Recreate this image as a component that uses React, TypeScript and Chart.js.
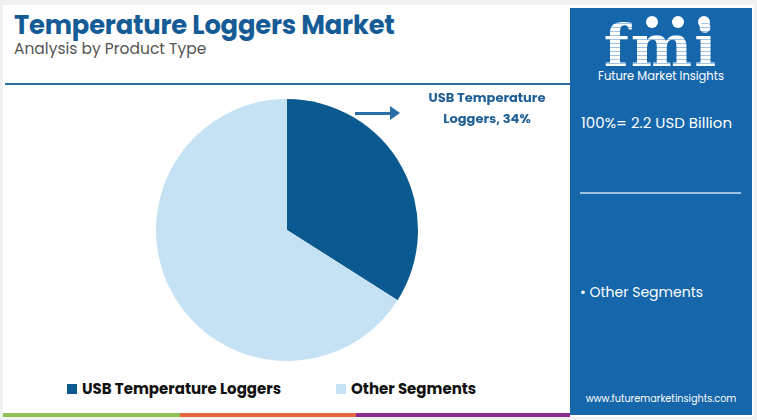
import React, { useEffect, useRef } from "react";
import { Chart, registerables } from "chart.js";

Chart.register(...registerables);

const categories = ["USB Temperature Loggers", "Other Segments"];
const shares = [34, 66];
const colors = ["#0b5a8f", "#c5e2f4"];
const titleText = "Temperature Loggers Market";
const subtitleText = "Analysis by Product Type";
const totalLabel = "100%= 2.2 USD Billion";
const calloutLines = ["USB Temperature", "Loggers, 34%"];
const sideSegments = ["Other Segments"];

export default function App() {
  const ref = useRef<HTMLCanvasElement | null>(null);

  useEffect(() => {
    document.body.style.margin = "0";
    const ctx = ref.current!.getContext("2d")!;
    const chart = new Chart(ctx, {
      type: "pie",
      data: {
        labels: categories,
        datasets: [
          {
            data: shares,
            backgroundColor: colors,
            borderWidth: 0,
          },
        ],
      },
      options: {
        responsive: false,
        animation: false,
        rotation: 0,
        layout: { padding: 0 },
        plugins: {
          tooltip: { enabled: false },
          legend: { display: false },
        },
      },
    });
    return () => chart.destroy();
  }, []);

  const font = "Poppins, 'Open Sans', sans-serif";

  return (
    <div style={{ position: "fixed", left: 0, top: 0, width: 757, height: 420, background: "#f1f1f1", fontFamily: font, overflow: "hidden" }}>
      <div style={{ position: "absolute", left: 3, top: 5, width: 751, height: 412, background: "#fff" }} />
      <div style={{ position: "absolute", left: 14, top: 6, fontSize: 25.8, fontWeight: 700, color: "#155c96", whiteSpace: "nowrap", letterSpacing: -0.2 }}>{titleText}</div>
      <div style={{ position: "absolute", left: 14, top: 37, fontSize: 15.5, color: "#555", whiteSpace: "nowrap" }}>{subtitleText}</div>
      <div style={{ position: "absolute", left: 5, top: 83, width: 566, height: 2, background: "#2c6e9c" }} />
      <canvas ref={ref} width={262} height={262} style={{ position: "absolute", left: 156, top: 99 }} />
      {/* callout */}
      <div style={{ position: "absolute", left: 355, top: 112, width: 38, height: 3, background: "#2a6ea8" }} />
      <div style={{ position: "absolute", left: 390, top: 106, width: 0, height: 0, borderTop: "7.5px solid transparent", borderBottom: "7.5px solid transparent", borderLeft: "10px solid #2a6ea8" }} />
      <div style={{ position: "absolute", left: 412, top: 87, width: 150, textAlign: "center", fontSize: 13, fontWeight: 700, color: "#1e5f96", lineHeight: "21px" }}>
        {calloutLines.map((l) => (<div key={l}>{l}</div>))}
      </div>
      {/* legend */}
      <div style={{ position: "absolute", left: 67, top: 378, display: "flex", alignItems: "center", gap: 55, whiteSpace: "nowrap" }}>
        {categories.map((c, i) => (
          <div key={c} style={{ display: "flex", alignItems: "center" }}>
            <div style={{ width: 10, height: 10, background: colors[i], marginRight: 5 }} />
            <div style={{ fontSize: 15, fontWeight: 700, color: "#111", lineHeight: "22px" }}>{c}</div>
          </div>
        ))}
      </div>
      {/* bottom bar */}
      <div style={{ position: "absolute", left: 3, top: 413, width: 177, height: 4, background: "#8dc155" }} />
      <div style={{ position: "absolute", left: 180, top: 413, width: 176, height: 4, background: "#e7663d" }} />
      <div style={{ position: "absolute", left: 356, top: 413, width: 214, height: 4, background: "#8b2d8e" }} />
      {/* side panel */}
      <div style={{ position: "absolute", left: 570, top: 8, width: 182, height: 407, background: "#1566aa", color: "#fff" }}>
        {[82, 108, 134].map((x) => (
          <div key={x} style={{ position: "absolute", left: x - 6, top: 8, width: 12, height: 12, borderRadius: 6, background: "#fff" }} />
        ))}
        <div style={{ position: "absolute", left: 0, top: 8, width: 182, textAlign: "center", fontFamily: "'DejaVu Serif', serif", fontWeight: 700, fontSize: 58, lineHeight: "60px", letterSpacing: 2,
          backgroundImage: "repeating-linear-gradient(180deg, #fff 0px, #fff 3px, #9fc3e6 3px, #9fc3e6 4px)", WebkitBackgroundClip: "text", backgroundClip: "text", color: "transparent" }}>fmi</div>
        <div style={{ position: "absolute", left: 0, top: 60, width: 182, textAlign: "center", fontSize: 11.5, whiteSpace: "nowrap" }}>Future Market Insights</div>
        <div style={{ position: "absolute", left: 11, top: 103, fontSize: 15, whiteSpace: "nowrap" }}>{totalLabel}</div>
        <div style={{ position: "absolute", left: 10, top: 184, width: 161, height: 2, background: "#9cc2e3" }} />
        {sideSegments.map((s, i) => (
          <div key={s} style={{ position: "absolute", left: 10, top: 274 + i * 20, fontSize: 14, whiteSpace: "nowrap" }}>• {s}</div>
        ))}
        <div style={{ position: "absolute", left: 0, top: 384, width: 182, textAlign: "center", fontSize: 9.7, whiteSpace: "nowrap" }}>www.futuremarketinsights.com</div>
      </div>
    </div>
  );
}
